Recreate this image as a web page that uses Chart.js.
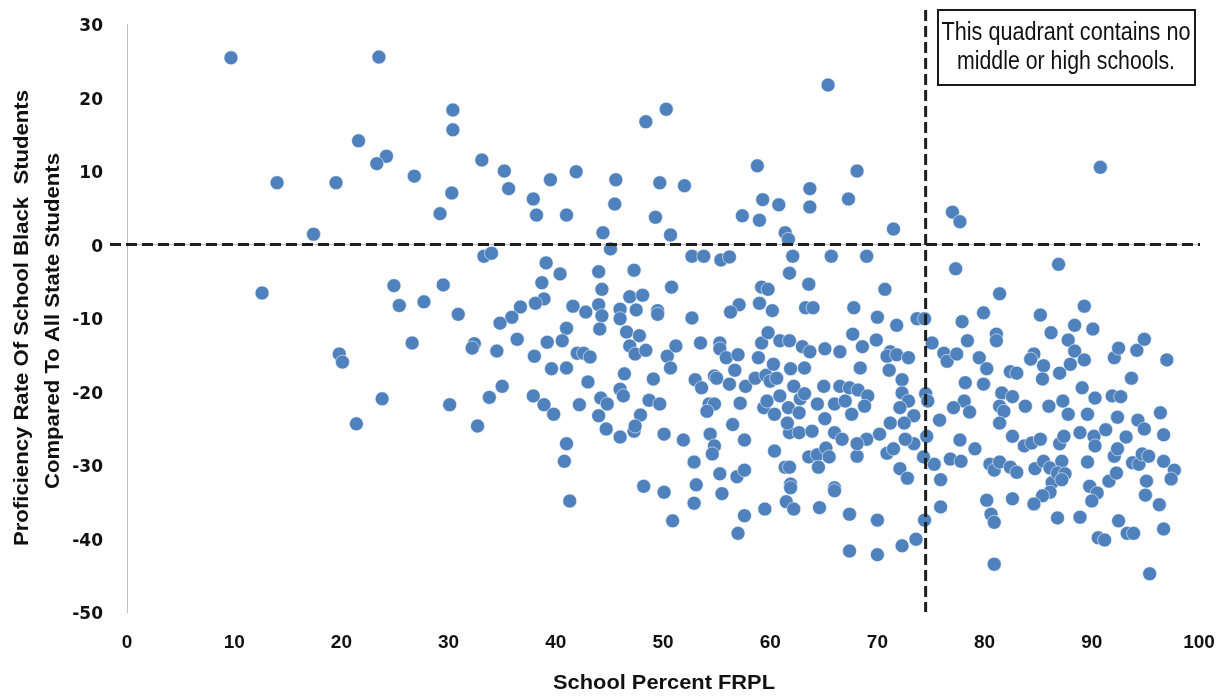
<!DOCTYPE html>
<html>
<head>
<meta charset="utf-8">
<title>Proficiency vs FRPL</title>
<script src="https://cdn.jsdelivr.net/npm/chart.js@4.4.1/dist/chart.umd.min.js"></script>
<style>
  html, body { margin: 0; padding: 0; background: #ffffff; }
  #wrap { width: 1228px; height: 696px; }
</style>
</head>
<body>
<div id="wrap"><canvas id="scatterChart" width="1228" height="696"></canvas></div>
<script>
// School percent FRPL (x) and proficiency gap vs all state students (y), one entry per school
const frplPercent = [
  9.7, 23.5, 30.4, 30.4, 21.6, 24.2, 23.3, 33.1, 14.0, 19.5, 26.8, 30.3, 29.2, 35.2, 35.6, 37.9, 38.2, 39.5, 41.9, 41.0,
  45.6, 45.5, 48.4, 50.3, 49.7, 52.0, 49.3, 58.8, 59.3, 60.8, 63.7, 63.7, 65.4, 57.4, 59.0, 67.3, 68.1, 90.8, 77.0, 77.7,
  17.4, 44.4, 45.1, 50.7, 61.4, 61.7, 71.5, 62.1, 12.6, 24.9, 25.4, 27.7, 29.5, 30.9, 33.3, 34.0, 26.6, 32.4, 32.2, 19.8,
  20.1, 23.8, 30.1, 21.4, 32.7, 33.8, 39.1, 40.4, 44.0, 47.3, 38.7, 44.3, 50.8, 52.7, 53.8, 55.4, 56.2, 65.7, 61.8, 63.6,
  59.2, 59.8, 59.0, 60.2, 63.3, 64.0, 57.1, 56.3, 52.7, 49.5, 49.5, 47.5, 46.9, 48.1, 46.0, 46.0, 41.6, 42.8, 44.0, 44.3,
  44.1, 38.9, 38.1, 36.7, 35.9, 34.8, 41.0, 40.6, 39.2, 36.4, 34.5, 38.0, 39.6, 41.0, 42.0, 42.6, 43.2, 46.6, 47.8, 46.9,
  47.4, 48.4, 46.4, 43.0, 35.0, 37.9, 38.9, 39.8, 42.2, 44.0, 44.2, 44.8, 46.0, 46.3, 47.9, 48.7, 49.7, 49.1, 50.4, 50.7,
  51.2, 53.5, 53.0, 53.6, 54.8, 55.3, 55.3, 55.9, 56.7, 57.0, 55.0, 56.2, 57.7, 58.6, 58.9, 59.6, 60.0, 60.3, 60.6, 59.2,
  59.8, 60.9, 61.8, 61.9, 63.0, 63.2, 63.7, 65.1, 66.5, 62.2, 62.8, 63.2, 64.4, 65.0, 66.0, 66.5, 67.0, 57.2, 54.3, 54.8,
  54.1, 59.4, 60.4, 60.9, 61.7, 62.7, 65.1, 59.7, 44.7, 46.0, 47.3, 47.4, 41.0, 40.8, 41.3, 48.2, 50.1, 50.9, 50.1, 51.9,
  52.9, 53.1, 52.9, 54.4, 54.8, 54.6, 55.3, 55.5, 56.5, 57.6, 56.9, 57.6, 57.6, 57.0, 59.5, 60.4, 61.4, 61.8, 61.9, 61.9,
  61.5, 62.2, 61.8, 62.7, 63.9, 63.6, 64.4, 64.5, 65.2, 65.5, 66.0, 66.0, 64.6, 67.4, 67.4, 66.0, 66.7, 61.6,
  69.0, 77.3, 86.9, 70.7, 81.4, 67.8, 70.0, 71.8, 73.7, 74.4, 77.9, 79.9, 85.2, 89.3, 88.4, 86.2, 90.1, 67.7, 69.9, 68.6,
  75.1, 78.4, 81.1, 81.1, 87.8, 71.2, 70.9, 71.8, 72.9, 76.2, 76.5, 77.4, 79.5, 80.2, 84.6, 84.3, 85.5, 85.4, 87.0, 88.0,
  88.4, 89.3, 82.4, 83.0, 92.1, 92.5, 94.2, 94.9, 97.0, 93.7, 68.4, 71.1, 72.3, 72.3, 72.9, 67.4, 68.2, 69.1, 68.8, 72.1,
  74.5, 74.7, 78.2, 79.9, 81.6, 82.6, 83.8, 78.1, 78.6, 77.1, 81.4, 81.8, 86.0, 87.3, 87.8, 89.1, 90.3, 91.9, 92.7, 89.6,
  92.4, 94.3, 96.4, 71.2, 73.4, 75.8, 67.6,
  74.6, 77.7, 79.1, 76.8, 77.8, 75.3, 74.3, 75.9, 75.9, 74.4, 73.6, 72.3, 70.0, 70.0, 68.1, 70.9, 72.1, 72.8, 73.4, 72.6,
  71.5, 70.2, 69.0, 68.1, 72.5, 81.4, 82.6, 80.5, 80.9, 81.4, 82.4, 83.0, 80.2, 80.6, 80.9, 80.9, 82.6, 83.7, 84.4, 85.2,
  84.7, 85.5, 86.1, 86.3, 86.1, 85.4, 84.6, 87.2, 87.0, 87.4, 86.8, 87.5, 87.2, 88.9, 90.2, 90.3, 91.3, 93.2, 89.6, 89.8,
  90.5, 90.0, 86.8, 88.9, 91.6, 92.3, 92.1, 92.4, 93.8, 94.4, 94.7, 95.3, 94.9, 96.7, 96.7, 97.7, 97.4, 95.1, 95.0, 96.3,
  96.7, 92.5, 93.3, 93.9, 90.6, 91.2, 95.4
];
const proficiencyGap = [
  25.4, 25.5, 18.3, 15.6, 14.1, 12.0, 11.0, 11.5, 8.4, 8.4, 9.3, 7.0, 4.2, 10.0, 7.6, 6.2, 4.0, 8.8, 9.9, 4.0,
  8.8, 5.5, 16.7, 18.4, 8.4, 8.0, 3.7, 10.7, 6.1, 5.4, 7.6, 5.1, 21.7, 3.9, 3.3, 6.2, 10.0, 10.5, 4.4, 3.1,
  1.4, 1.6, -0.6, 1.3, 1.6, 0.7, 2.1, -1.6, -6.6, -5.6, -8.3, -7.8, -5.5, -9.5, -1.6, -1.2, -13.4, -13.5, -14.1, -14.9,
  -16.0, -21.0, -21.8, -24.4, -24.7, -20.8, -2.5, -4.0, -3.7, -3.5, -5.2, -6.1, -5.8, -1.6, -1.6, -2.1, -1.7, -1.6, -3.9, -5.4,
  -5.8, -6.1, -8.0, -9.0, -8.6, -8.6, -8.2, -9.2, -10.0, -9.0, -9.5, -8.9, -7.1, -6.9, -8.8, -10.1, -8.4, -9.2, -8.2, -9.7,
  -11.5, -7.4, -8.0, -8.5, -9.9, -10.7, -11.4, -13.1, -13.3, -12.9, -14.5, -15.2, -16.9, -16.8, -14.8, -14.8, -15.3, -11.9, -12.4, -13.8,
  -14.9, -14.4, -17.6, -18.7, -19.3, -20.6, -21.8, -23.1, -21.8, -23.3, -20.9, -21.7, -19.7, -20.6, -23.2, -21.2, -21.7, -18.3, -15.2, -16.8,
  -13.8, -13.4, -18.4, -19.5, -17.9, -13.4, -14.2, -15.4, -17.1, -15.0, -18.2, -19.0, -19.3, -18.2, -15.4, -17.8, -18.6, -16.3, -18.2, -13.4,
  -12.0, -13.1, -13.1, -16.9, -13.9, -16.8, -14.6, -14.2, -14.6, -19.3, -21.0, -20.3, -21.7, -19.3, -21.7, -19.3, -21.3, -21.6, -21.7, -21.7,
  -22.7, -22.2, -23.1, -20.6, -22.2, -22.9, -23.7, -21.3, -25.1, -26.2, -25.4, -24.7, -27.1, -29.5, -34.9, -32.9, -33.7, -37.6, -25.8, -26.6,
  -29.6, -32.7, -35.2, -25.8, -27.4, -28.5, -31.2, -33.9, -24.5, -26.6, -31.6, -30.7, -36.9, -39.3, -36.0, -28.1, -30.3, -30.3, -32.6, -33.1,
  -35.0, -36.0, -25.6, -25.6, -25.4, -28.9, -28.6, -30.3, -27.7, -28.9, -33.1, -33.5, -35.8, -36.7, -41.7, -25.6, -26.5, -24.3,
  -1.6, -3.3, -2.7, -6.1, -6.7, -8.6, -9.9, -11.0, -10.1, -10.1, -10.5, -9.3, -9.6, -8.4, -11.0, -12.0, -11.5, -12.2, -13.0, -13.9,
  -13.4, -13.1, -12.2, -13.1, -13.0, -14.6, -15.2, -15.0, -15.4, -14.8, -15.9, -14.9, -15.4, -16.9, -14.9, -15.6, -16.5, -18.3, -17.5, -16.3,
  -14.5, -15.7, -17.3, -17.5, -15.4, -14.1, -14.4, -12.9, -15.7, -18.2, -16.8, -17.1, -18.4, -20.2, -21.3, -19.5, -19.8, -20.6, -22.0, -22.2,
  -20.3, -21.3, -18.8, -19.0, -20.2, -20.7, -22.0, -21.3, -22.8, -22.2, -22.0, -22.7, -22.0, -21.3, -23.1, -19.5, -20.9, -20.6, -20.7, -23.1,
  -23.5, -23.9, -22.9, -24.3, -23.3, -23.9, -23.1,
  -26.1, -26.6, -27.8, -29.2, -29.5, -29.9, -28.9, -32.0, -35.7, -37.5, -40.1, -41.0, -37.5, -42.2, -28.8, -28.4, -30.5, -31.8, -27.1, -26.5,
  -27.8, -25.8, -26.5, -27.1, -24.3, -24.3, -26.1, -29.9, -30.7, -29.6, -30.3, -31.0, -34.8, -36.7, -37.8, -43.5, -34.6, -27.4, -27.0, -26.5,
  -30.5, -29.5, -30.4, -32.4, -33.7, -34.2, -35.3, -29.5, -27.1, -26.1, -31.1, -31.2, -32.0, -25.6, -26.1, -27.4, -25.2, -26.2, -29.6, -32.9,
  -33.8, -34.9, -37.2, -37.1, -32.2, -31.1, -28.8, -27.8, -29.7, -29.9, -28.5, -28.8, -25.1, -25.9, -29.5, -30.7, -31.9, -32.2, -34.1, -35.4,
  -38.7, -37.6, -39.3, -39.3, -39.9, -40.2, -44.8
];

// axis ticks
const xTickValues = [0, 10, 20, 30, 40, 50, 60, 70, 80, 90, 100];
const yTickValues = [-50, -40, -30, -20, -10, 0, 10, 20, 30];

// reference lines and note
const frplCutoff = 74.5;
const gapBaseline = 0;
const noteLines = ['This quadrant contains no', 'middle or high schools.'];
const xTitle = 'School Percent FRPL';
const yTitleLines = ['Proficiency Rate Of School Black  Students', 'Compared To All State Students'];

const schoolPoints = frplPercent.map((x, i) => ({ x: x, y: proficiencyGap[i] }));

// draws text squeezed/stretched to a given width
function fitText(ctx, text, x, y, width, rotated) {
    ctx.save();
    ctx.translate(x, y);
    if (rotated) ctx.rotate(-Math.PI / 2);
    const w = ctx.measureText(text).width;
    ctx.scale(width / w, 1);
    ctx.fillText(text, 0, 0);
    ctx.restore();
}

const guideLines = {
    id: 'guideLines',
    beforeDatasetsDraw(chart) {
        const ctx = chart.ctx;
        const xs = chart.scales.x, ys = chart.scales.y;
        const y0 = ys.getPixelForValue(gapBaseline);
        // light axis line at zero
        ctx.save();
        ctx.strokeStyle = '#bfbfbf';
        ctx.lineWidth = 1;
        ctx.beginPath();
        ctx.moveTo(xs.left, y0);
        ctx.lineTo(xs.right, y0);
        ctx.stroke();
        ctx.restore();
    },
    afterDatasetsDraw(chart) {
        const ctx = chart.ctx;
        const xs = chart.scales.x, ys = chart.scales.y;
        const y0 = ys.getPixelForValue(gapBaseline);
        const xc = xs.getPixelForValue(frplCutoff);

        ctx.save();
        ctx.strokeStyle = '#1e1e1e';
        ctx.lineWidth = 3;
        ctx.setLineDash([11, 5]);
        ctx.beginPath();
        ctx.moveTo(xs.left - 17, y0);
        ctx.lineTo(xs.right + 1, y0);
        ctx.stroke();
        ctx.beginPath();
        ctx.moveTo(xc, 10);
        ctx.lineTo(xc, ys.bottom);
        ctx.stroke();
        ctx.restore();

        // note box
        ctx.save();
        ctx.fillStyle = '#ffffff';
        ctx.fillRect(938, 10, 257, 75);
        ctx.strokeStyle = '#1a1a1a';
        ctx.lineWidth = 2;
        ctx.strokeRect(938, 10, 257, 75);
        ctx.fillStyle = '#111111';
        ctx.textAlign = 'center';
        ctx.textBaseline = 'middle';
        ctx.font = "26px 'Liberation Sans', Arial, sans-serif";
        fitText(ctx, noteLines[0], 1066, 33, 249, false);
        fitText(ctx, noteLines[1], 1066, 62, 218, false);
        ctx.restore();

        // axis titles
        ctx.save();
        ctx.fillStyle = '#111111';
        ctx.textAlign = 'center';
        ctx.textBaseline = 'middle';
        ctx.font = "bold 21px 'Liberation Sans', Arial, sans-serif";
        fitText(ctx, yTitleLines[0], 22, 318, 456, true);
        fitText(ctx, yTitleLines[1], 53, 321, 336, true);
        fitText(ctx, xTitle, 664, 683, 222, false);
        ctx.restore();
    }
};

new Chart(document.getElementById('scatterChart'), {
    type: 'scatter',
    data: {
        datasets: [{
            label: 'Schools',
            data: schoolPoints,
            backgroundColor: '#4f81bd',
            borderColor: 'rgba(255, 255, 255, 0.55)',
            borderWidth: 1,
            pointRadius: 7,
            pointHoverRadius: 7
        }]
    },
    options: {
        responsive: false,
        animation: false,
        devicePixelRatio: 1,
        layout: {
            padding: { top: 24, right: 29, left: 0, bottom: 0 }
        },
        plugins: {
            legend: { display: false },
            tooltip: { enabled: false }
        },
        scales: {
            x: {
                type: 'linear',
                min: 0,
                max: 100,
                afterBuildTicks: (scale) => { scale.ticks = xTickValues.map(v => ({ value: v })); },
                afterFit: (scale) => {
                    scale.height = 84;
                    scale.paddingLeft = 0;
                    scale.paddingRight = 0;
                },
                grid: { display: false, drawTicks: false },
                border: { display: false },
                ticks: {
                    padding: 19,
                    color: '#111111',
                    font: { family: "'Liberation Sans Narrow', 'Liberation Sans', sans-serif", weight: 'bold', size: 19 }
                }
            },
            y: {
                type: 'linear',
                min: -50,
                max: 30,
                afterBuildTicks: (scale) => { scale.ticks = yTickValues.map(v => ({ value: v })); },
                afterFit: (scale) => {
                    scale.width = 127;
                    scale.paddingTop = 0;
                    scale.paddingBottom = 0;
                },
                grid: { display: false, drawTicks: false },
                border: { display: true, color: '#bfbfbf', width: 1 },
                ticks: {
                    padding: 24,
                    labelOffset: 3,
                    color: '#111111',
                    font: { family: "'DejaVu Sans', sans-serif", weight: 'bold', size: 17 }
                }
            }
        }
    },
    plugins: [guideLines]
});
</script>
</body>
</html>
